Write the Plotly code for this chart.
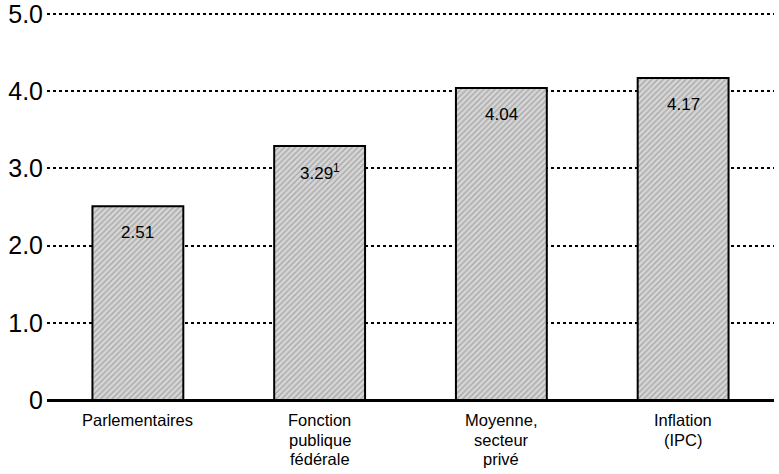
import plotly.graph_objects as go

# Chart data
categories = ["Parlementaires", "Fonction<br>publique<br>fédérale", "Moyenne,<br>secteur<br>privé", "Inflation<br>(IPC)"]
values = [2.51, 3.29, 4.04, 4.17]
value_labels = ["2.51", "3.29<sup>1</sup>", "4.04", "4.17"]
tick_values = [0, 1, 2, 3, 4, 5]
tick_labels = ["0", "1.0", "2.0", "3.0", "4.0", "5.0"]

FONT = "Liberation Sans, Arial, sans-serif"
positions = list(range(len(categories)))

fig = go.Figure(
    go.Bar(
        x=positions,
        y=values,
        width=0.5,
        marker=dict(
            color="#d6d6d6",
            line=dict(color="black", width=2),
            pattern=dict(shape="/", fgcolor="#7a7a7a", bgcolor="#d6d6d6", size=4, solidity=0.35),
        ),
        hoverinfo="skip",
    )
)

# Value labels sit just inside the top of each bar
for xi, v, lab in zip(positions, values, value_labels):
    fig.add_annotation(
        x=xi, y=v, text=lab, showarrow=False,
        yanchor="middle", yshift=-26,
        font=dict(family=FONT, size=17, color="black"),
    )

# Category labels under the axis, one line per annotation for tight leading
LINE_STEP = 19.5
for xi, cat in zip(positions, categories):
    for k, line in enumerate(cat.split("<br>")):
        fig.add_annotation(
            x=xi, y=0, text=line, showarrow=False,
            yanchor="middle", yshift=-20 - LINE_STEP * k,
            borderpad=0,
            font=dict(family=FONT, size=16.5, color="black"),
        )

fig.update_layout(
    width=779,
    height=474,
    margin=dict(l=47, r=5, t=0, b=74),
    paper_bgcolor="white",
    plot_bgcolor="white",
    showlegend=False,
    font=dict(family=FONT, color="black"),
)

fig.update_xaxes(
    range=[-0.5, 3.5],
    tickvals=positions,
    showticklabels=False,
    showgrid=False,
    showline=False,
    ticks="",
)

fig.update_yaxes(
    range=[0, 400 / 77.2],
    tickvals=tick_values,
    ticktext=tick_labels,
    tickfont=dict(family=FONT, size=25, color="black"),
    ticklabeloverflow="allow",
    showgrid=True,
    gridcolor="black",
    gridwidth=1.5,
    griddash="dot",
    zeroline=True,
    zerolinecolor="black",
    zerolinewidth=3,
    showline=False,
    ticks="",
    ticklabelstandoff=3,
)

fig.write_html("out.html")
